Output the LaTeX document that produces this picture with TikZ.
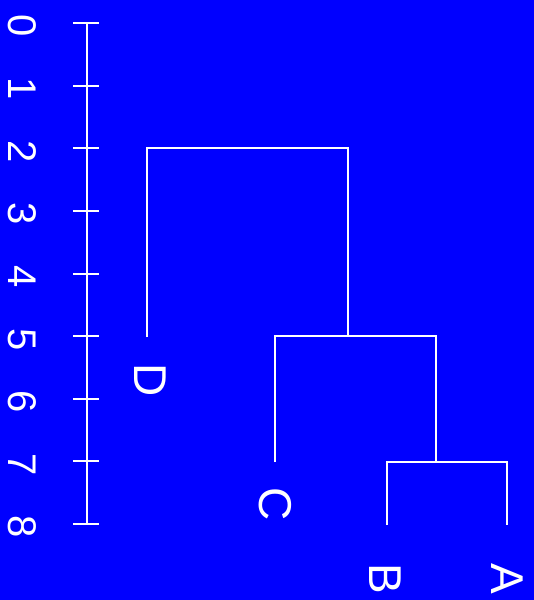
\documentclass[tikz,border=0pt]{standalone}
\usepackage{fontspec}
\setmainfont{Liberation Sans}
\definecolor{bgblue}{HTML}{0000FF}
\begin{document}
\begin{tikzpicture}[x=1pt,y=-1pt,
  link/.style={draw=white,line width=2pt},
  digit/.style={text=white,inner sep=0pt,rotate=-90,font=\fontsize{40}{40}\selectfont},
  leaflabel/.style={text=white,inner sep=0pt,rotate=-90,font=\fontsize{46}{46}\selectfont}]
\fill[bgblue] (0,0) rectangle (534,600);
\useasboundingbox (0,0) rectangle (534,600);
% axis
\foreach \i in {0,...,8}{
  \coordinate (tl\i) at (73,{23+62.625*\i});
  \coordinate (tr\i) at (99,{23+62.625*\i});
  \coordinate (tc\i) at (87,{23+62.625*\i});
  \node[digit] (d\i) at (22,{26+62.625*\i}) {\i};
  \draw[link] (tl\i) -- (tr\i);
}
\draw[link] (tc0) -- (tc8);
% dendrogram
\coordinate (Dbot) at (147,337);
\coordinate (Cbot) at (275,462);
\coordinate (Bbot) at (387,525);
\coordinate (Abot) at (507,525);
\coordinate (m1) at (247.5,148);
\coordinate (m2) at (348,336);
\coordinate (m3) at (436,462);
\draw[link] (Dbot) |- (m1) -| (m2);
\draw[link] (Cbot) |- (m2) -| (m3);
\draw[link] (Bbot) |- (m3) -| (Abot);
\node[leaflabel] (D) at (150.5,380.5) {D};
\node[leaflabel] (C) at (275,504) {C};
\node[leaflabel] (B) at (385,578.5) {B};
\node[leaflabel] (A) at (507,579) {A};
\end{tikzpicture}
\end{document}
